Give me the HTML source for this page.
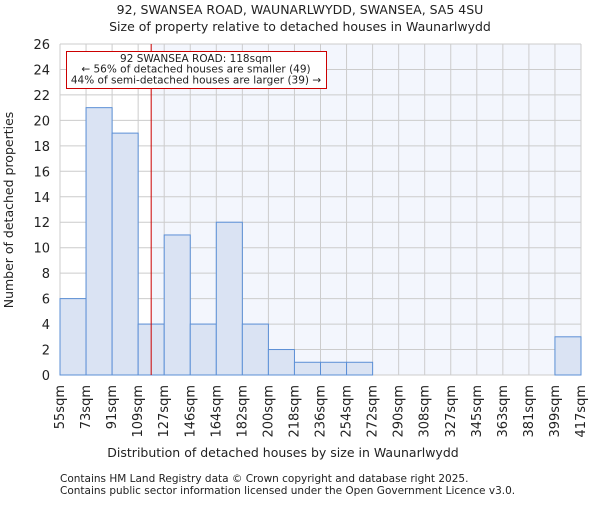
<!DOCTYPE html>
<html><head><meta charset="utf-8"><style>
body{margin:0;background:#fff}
svg text{font-family:"DejaVu Sans","Liberation Sans",sans-serif;fill:#222}
</style></head><body>
<svg id="c" width="600" height="500">
<text x="300" y="14" text-anchor="middle" font-size="12.5">92, SWANSEA ROAD, WAUNARLWYDD, SWANSEA, SA5 4SU</text>
<text x="300" y="31" text-anchor="middle" font-size="12.5">Size of property relative to detached houses in Waunarlwydd</text>
<g id="plot"></g>
<text x="283" y="457" text-anchor="middle" font-size="12.5">Distribution of detached houses by size in Waunarlwydd</text>
<text transform="translate(13,210) rotate(-90)" text-anchor="middle" font-size="12.5">Number of detached properties</text>
<text x="60" y="482" font-size="10.5" fill="#444">Contains HM Land Registry data © Crown copyright and database right 2025.</text>
<text x="60" y="494" font-size="10.5" fill="#444">Contains public sector information licensed under the Open Government Licence v3.0.</text>
</svg>
<script>
const categories=["55sqm","73sqm","91sqm","109sqm","127sqm","146sqm","164sqm","182sqm","200sqm","218sqm","236sqm","254sqm","272sqm","290sqm","308sqm","327sqm","345sqm","363sqm","381sqm","399sqm","417sqm"];
const counts=[6,21,19,4,11,4,12,4,2,1,1,1,0,0,0,0,0,0,0,3];
const yTicks=[0,2,4,6,8,10,12,14,16,18,20,22,24,26];
const propertyBin=3.5;
const NS="http://www.w3.org/2000/svg";
const g=document.getElementById('plot');
const L=60,R=581,T=44,B=375,yMax=26;
const n=counts.length;
const x=i=>L+(R-L)*i/n;
const y=v=>B-(B-T)*v/yMax;
function mk(t,a,p){const e=document.createElementNS(NS,t);for(const k in a)e.setAttribute(k,a[k]);(p||g).appendChild(e);return e;}
const px=x(propertyBin);
let e=mk('rect',{x:L,y:T,width:R-L,height:B-T,fill:'#fff'});


e=mk('rect',{x:px,y:T,width:R-px,height:B-T,fill:'#f3f6fd'});


for(let i=0;i<=n;i++){e=mk('line',{x1:x(i),x2:x(i),y1:T,y2:B,stroke:'#cccccc','stroke-width':1});

}
yTicks.forEach(v=>{e=mk('line',{x1:L,x2:R,y1:y(v),y2:y(v),stroke:'#cccccc','stroke-width':1});


e=mk('text',{x:L-10,y:y(v)+5,'text-anchor':'end','font-size':13});e.textContent=v;

});
counts.forEach((c,i)=>{if(c<=0)return;e=mk('rect',{x:x(i),y:y(c),width:x(i+1)-x(i),height:B-y(c),fill:'#dae3f3',stroke:'#5b8fd6','stroke-width':1});

});
categories.forEach((c,i)=>{e=mk('text',{transform:`translate(${x(i)+4},385) rotate(-90)`,'text-anchor':'end','font-size':13});e.textContent=c;

});
e=mk('line',{x1:px,x2:px,y1:T,y2:B,stroke:'#cc0000','stroke-width':1});


const ann=mk('g',{});


mk('rect',{x:66.5,y:51.5,width:260,height:37,fill:'#fff',stroke:'#cc0000','stroke-width':1},ann);
["92 SWANSEA ROAD: 118sqm","← 56% of detached houses are smaller (49)","44% of semi-detached houses are larger (39) →"].forEach((t,i)=>{const tx=mk('text',{x:196,y:62+i*10.7,'text-anchor':'middle','font-size':10.5},ann);tx.textContent=t;});
</script>
</body></html>
